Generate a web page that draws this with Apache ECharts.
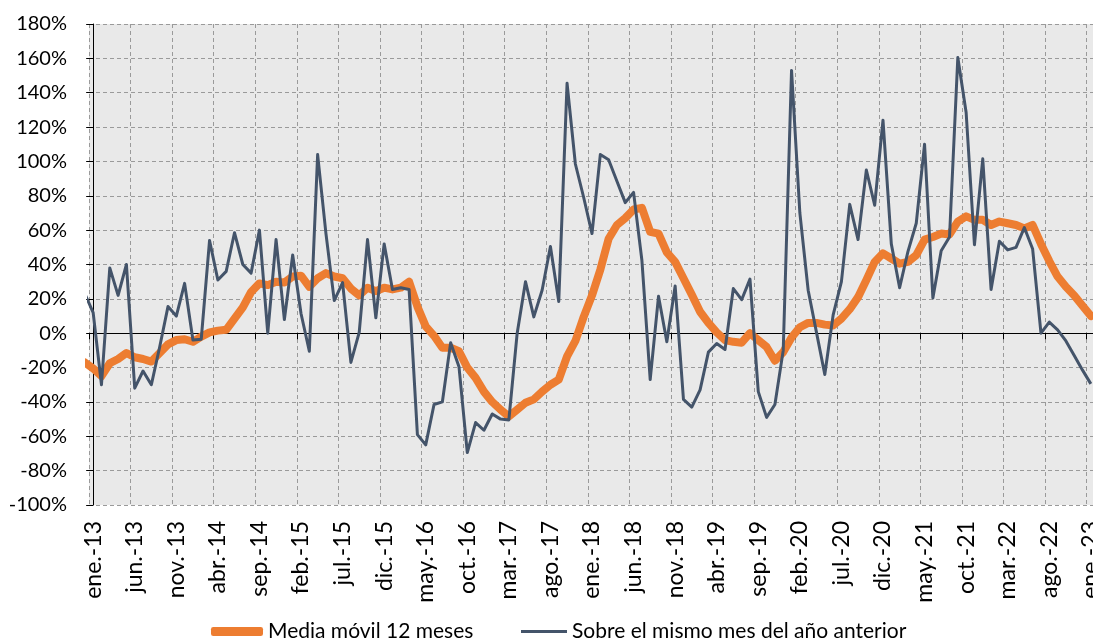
<!DOCTYPE html>
<html>
<head>
<meta charset="utf-8">
<script src="https://cdn.jsdelivr.net/npm/echarts@6/dist/echarts.min.js"></script>
<style>
html,body{margin:0;padding:0;background:#fff;}
#chart{width:1093px;height:639px;}
</style>
</head>
<body>
<div id="chart"></div>
<script>
const categories = [
 'ene.-13','feb.-13','mar.-13','abr.-13','may.-13','jun.-13','jul.-13','ago.-13','sep.-13','oct.-13','nov.-13','dic.-13',
 'ene.-14','feb.-14','mar.-14','abr.-14','may.-14','jun.-14','jul.-14','ago.-14','sep.-14','oct.-14','nov.-14','dic.-14',
 'ene.-15','feb.-15','mar.-15','abr.-15','may.-15','jun.-15','jul.-15','ago.-15','sep.-15','oct.-15','nov.-15','dic.-15',
 'ene.-16','feb.-16','mar.-16','abr.-16','may.-16','jun.-16','jul.-16','ago.-16','sep.-16','oct.-16','nov.-16','dic.-16',
 'ene.-17','feb.-17','mar.-17','abr.-17','may.-17','jun.-17','jul.-17','ago.-17','sep.-17','oct.-17','nov.-17','dic.-17',
 'ene.-18','feb.-18','mar.-18','abr.-18','may.-18','jun.-18','jul.-18','ago.-18','sep.-18','oct.-18','nov.-18','dic.-18',
 'ene.-19','feb.-19','mar.-19','abr.-19','may.-19','jun.-19','jul.-19','ago.-19','sep.-19','oct.-19','nov.-19','dic.-19',
 'ene.-20','feb.-20','mar.-20','abr.-20','may.-20','jun.-20','jul.-20','ago.-20','sep.-20','oct.-20','nov.-20','dic.-20',
 'ene.-21','feb.-21','mar.-21','abr.-21','may.-21','jun.-21','jul.-21','ago.-21','sep.-21','oct.-21','nov.-21','dic.-21',
 'ene.-22','feb.-22','mar.-22','abr.-22','may.-22','jun.-22','jul.-22','ago.-22','sep.-22','oct.-22','nov.-22','dic.-22',
 'ene.-23'
];

// value of the month before the first category (dic.-12), drawn clipped at the axis
const mediaMovilPrev = -17;
const mismoMesPrev = 23;

// Media móvil 12 meses (%)
const mediaMovil = [
 -20.5,-25,-17.5,-15,-11.5,-14,-15,-16.5,-11.5,-6.5,-4,-3.5,
 -5,-2,0.5,1.5,2,8.5,15,24,29,28,30,29.5,
 33,33.5,27,32,35,33,32,26,22,26.5,24.5,26.5,
 25.5,26.5,30,15.5,4,-1.5,-8.5,-8.5,-10.5,-20,-26,-34,
 -40,-44.5,-48.5,-44.5,-40.5,-38.5,-34,-30,-27,-13.5,-4.5,9.5,
 22,37,55,63,67,72,73,59,58,47,41.5,32,
 22.5,12.5,6,0.5,-4,-5,-5.5,0,-4,-8,-16,-11,
 -2.5,3.5,6,6,5,4.5,8.5,14,21,31,41.5,46.5,
 43.5,40.5,41.5,45.5,54.5,56,58,57.5,65,68,66,66,
 63,65,64,63,61,63,52,42,33,27,22,16,
 10
];

// Sobre el mismo mes del año anterior (%)
const mismoMes = [
 12,-30,38,22,40,-32,-22,-30,-8,15.5,10,29,
 -4,-3.5,54,31,36,58.5,40,35,60,0,54.5,8,
 45.5,11.5,-10.5,104,58,19,29.5,-17,0.5,54.5,9,52,
 25.5,26.5,25.5,-59,-65,-41.5,-40,-5.5,-19.5,-69.5,-52,-56.5,
 -47,-50,-50.5,0,30,9.5,25,50.5,18.5,145.5,98.5,79,
 58,104,101,88.5,76,82,42.5,-27,21.5,-5,27.5,-38.5,
 -43,-33,-11,-6,-9.5,26,19.5,31.5,-34,-49,-41.5,-10,
 153,70,25,0.5,-24,10.5,30,75,54.5,95,74.5,124,
 52,26.5,47.5,64,110,20.5,48,56,160.5,128.5,51.5,101.5,
 25.5,53.5,48.5,50,61.5,49,0,6.5,2,-4.5,-13,-21.5,
 -29.5
];

const yTicks = { min: -100, max: 180, step: 20 };
const seriesNames = ['Media móvil 12 meses', 'Sobre el mismo mes del año anterior'];

function toPairs(prev, arr) {
  const out = [[-1, prev]];
  arr.forEach((v, i) => out.push([i, v]));
  return out;
}

const FONT = 'Lato';
const chart = echarts.init(document.getElementById('chart'), null, { renderer: 'canvas' });

const option = {
  animation: false,
  backgroundColor: '#ffffff',
  textStyle: { fontFamily: FONT },
  grid: {
    left: 89, right: -2, top: 24, bottom: 134,
    outerBoundsMode: 'none', containLabel: false,
    show: true, backgroundColor: '#E9E9E9', borderWidth: 0
  },
  legend: [
    {
      data: [seriesNames[0]],
      left: 211, top: 621, padding: 0,
      icon: 'roundRect', itemWidth: 52, itemHeight: 9,
      textStyle: { fontFamily: FONT, fontSize: 21, color: '#000' }
    },
    {
      data: [seriesNames[1]],
      left: 521, top: 621, padding: 0,
      icon: 'rect', itemWidth: 46, itemHeight: 3,
      textStyle: { fontFamily: FONT, fontSize: 21, color: '#000' }
    }
  ],
  xAxis: [
    {
      type: 'category',
      data: categories,
      position: 'bottom',
      boundaryGap: true,
      axisLine: { show: false, onZero: false },
      axisTick: { show: false, interval: 4 },
      axisLabel: {
        interval: 4, rotate: 90, margin: 16,
        fontFamily: FONT, fontSize: 23, color: '#000'
      },
      splitLine: {
        show: true, interval: 4,
        lineStyle: { type: [4, 3], color: '#9A9A9A', width: 1 }
      }
    },
    {
      type: 'category',
      data: categories,
      position: 'bottom',
      boundaryGap: true,
      axisLine: { show: true, onZero: true, lineStyle: { color: '#000', width: 1 } },
      axisTick: { show: true, interval: 4, length: 6, lineStyle: { color: '#000', width: 1 } },
      axisLabel: { show: false },
      splitLine: { show: false }
    },
    {
      type: 'value',
      min: -0.5, max: categories.length - 0.5,
      show: false,
      splitLine: { show: false }
    }
  ],
  yAxis: {
    type: 'value',
    min: yTicks.min, max: yTicks.max, interval: yTicks.step,
    axisLine: { show: true, lineStyle: { color: '#000', width: 1 } },
    axisTick: { show: true, length: 7, lineStyle: { color: '#000' } },
    axisLabel: {
      formatter: '{value}%', margin: 22,
      fontFamily: FONT, fontSize: 20, color: '#000'
    },
    splitLine: { show: true, lineStyle: { type: [4, 3], color: '#9A9A9A', width: 1 } }
  },
  series: [
    {
      name: seriesNames[0],
      type: 'line',
      xAxisIndex: 2,
      data: toPairs(mediaMovilPrev, mediaMovil),
      showSymbol: false, symbol: 'none',
      clip: true,
      lineStyle: { color: '#ED7D31', width: 8, join: 'round', cap: 'round' },
      itemStyle: { color: '#ED7D31' },
      z: 2
    },
    {
      name: seriesNames[1],
      type: 'line',
      xAxisIndex: 2,
      data: toPairs(mismoMesPrev, mismoMes),
      showSymbol: false, symbol: 'none',
      clip: true,
      lineStyle: { color: '#44546A', width: 3, join: 'round' },
      itemStyle: { color: '#44546A' },
      z: 3
    }
  ]
};
chart.setOption(option);
</script>
</body>
</html>
